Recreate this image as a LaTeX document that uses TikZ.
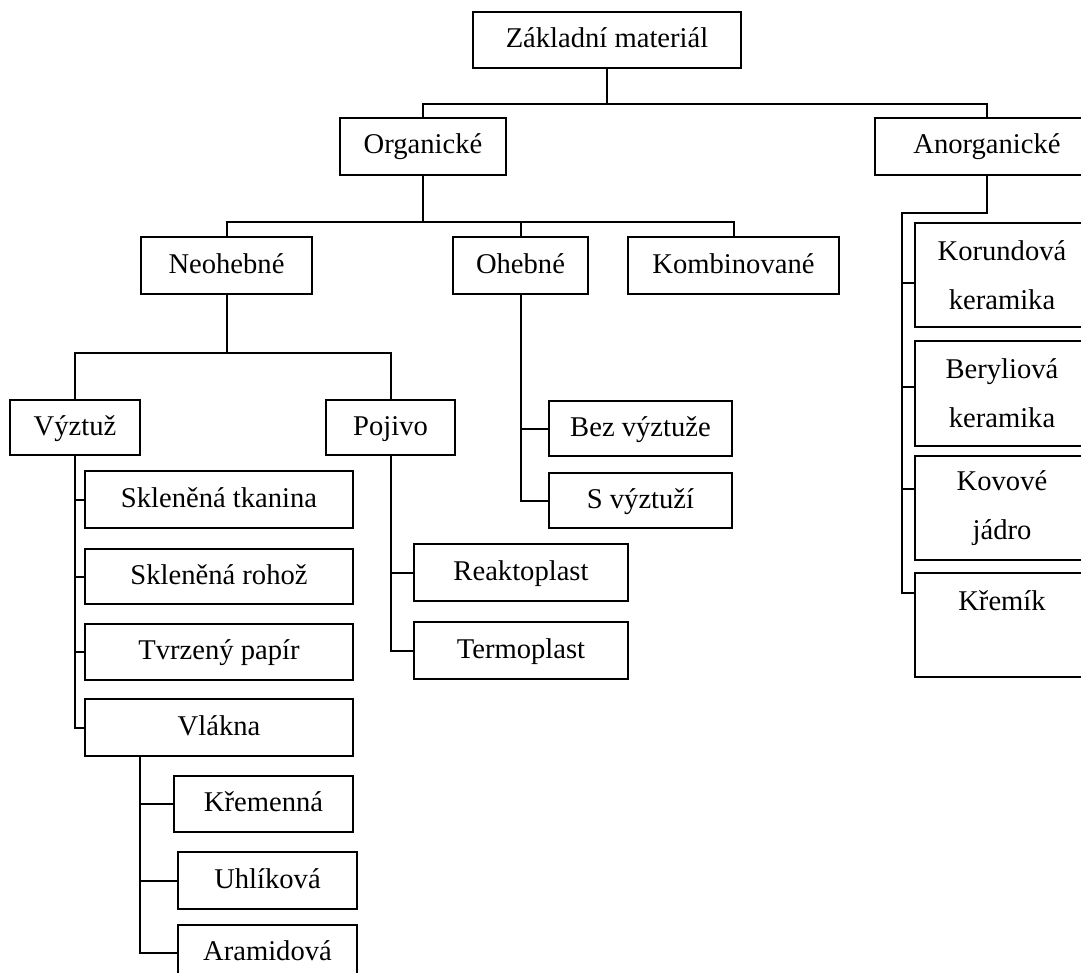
\documentclass[tikz,border=0pt]{standalone}
\usepackage{fontspec}
\setmainfont{Liberation Serif}
\usetikzlibrary{calc}
\tikzset{
  box/.style={draw, line width=1pt, inner sep=0pt, outer sep=0pt, align=center,
    font=\fontsize{14.3}{24.5}\selectfont},
  oneline/.style={text height=10.5pt, text depth=3pt},
  conn/.style={line width=1pt}
}
\newcommand\bx[6]{\node[box, oneline, anchor=north west, minimum width={(#4-#2)*0.5pt}, minimum height={(#5-#3)*0.5pt}] (#1) at (#2,#3) {#6};}
\newcommand\bxx[6]{\node[box, anchor=north west, minimum width={(#4-#2)*0.5pt}, minimum height={(#5-#3)*0.5pt}] (#1) at (#2,#3) {#6};}
\begin{document}
\begin{tikzpicture}[x=0.5pt, y=-0.5pt]
\useasboundingbox (0,0) rectangle (1081,973);
\clip (0,0) rectangle (1081,973);
\bx{root}{473}{12}{741}{68}{Základní materiál}
\bx{org}{340}{118}{506}{175}{Organické}
\bx{anorg}{875}{118}{1099}{175}{Anorganické}
\bx{neo}{141}{237}{312}{294}{Neohebné}
\bx{ohe}{453}{237}{588}{294}{Ohebné}
\bx{kom}{628}{237}{839}{294}{Kombinované}
\bx{vyz}{10}{400}{140}{455}{Výztuž}
\bx{poj}{326}{400}{455}{455}{Pojivo}
\bx{st}{85}{471}{353}{528}{Skleněná tkanina}
\bx{sr}{85}{549}{353}{604}{Skleněná rohož}
\bx{tp}{85}{624}{353}{680}{Tvrzený papír}
\bx{vl}{85}{699}{353}{756}{Vlákna}
\bx{kre}{174}{776}{353}{832}{Křemenná}
\bx{uhl}{178}{852}{357}{909}{Uhlíková}
\bx{ara}{178}{925}{357}{980}{Aramidová}
\bx{rea}{414}{544}{628}{601}{Reaktoplast}
\bx{ter}{414}{622}{628}{679}{Termoplast}
\bx{bez}{549}{401}{732}{456}{Bez výztuže}
\bx{svy}{549}{473}{732}{528}{S výztuží}
\bxx{kor}{915}{223}{1089}{327}{Korundová\\keramika}
\bxx{ber}{915}{341}{1089}{446}{Beryliová\\keramika}
\bxx{kov}{915}{456}{1089}{560}{Kovové\\jádro}
\bxx{krm}{915}{573}{1089}{677}{Křemík\\\mbox{}}
% level 1
\coordinate (j0) at ($(root.south)+(0,36)$);
\draw[conn] (root.south) -- (j0) -| (org.north);
\draw[conn] (j0) -| (anorg.north);
% organicke
\coordinate (j1) at ($(org.south)+(0,47)$);
\draw[conn] (org.south) -- (j1) -| (neo.north);
\draw[conn] (j1) -| (ohe.north);
\draw[conn] (j1) -| (kom.north);
% neohebne
\coordinate (j2) at ($(neo.south)+(0,59)$);
\draw[conn] (neo.south) -- (j2) -| (vyz.north);
\draw[conn] (j2) -| (poj.north);
% vyztuz
\draw[conn] (vyz.south) |- (vl.west);
\foreach \n in {st,sr,tp} \draw[conn] (vyz.south |- \n.west) -- (\n.west);
% vlakna
\coordinate (vls) at ($(vl.south west)+(55,0)$);
\draw[conn] (vls) |- (ara.west);
\foreach \n in {kre,uhl} \draw[conn] (vls |- \n.west) -- (\n.west);
% pojivo
\draw[conn] (poj.south) |- (ter.west);
\draw[conn] (poj.south |- rea.west) -- (rea.west);
% ohebne
\draw[conn] (ohe.south) |- (svy.west);
\draw[conn] (ohe.south |- bez.west) -- (bez.west);
% anorganicke
\coordinate (ja) at ($(anorg.south)+(0,38)$);
\coordinate (jb) at ($(kor.north west)+(-13,-10)$);
\coordinate (k1) at ($(kor.north west)+(0,60)$);
\coordinate (k2) at ($(ber.north west)+(0,46)$);
\coordinate (k3) at ($(kov.north west)+(0,33)$);
\coordinate (k4) at ($(krm.north west)+(0,20)$);
\draw[conn] (anorg.south) -- (ja) -- (jb) |- (k4);
\foreach \k in {k1,k2,k3} \draw[conn] (jb |- \k) -- (\k);
\end{tikzpicture}
\end{document}
